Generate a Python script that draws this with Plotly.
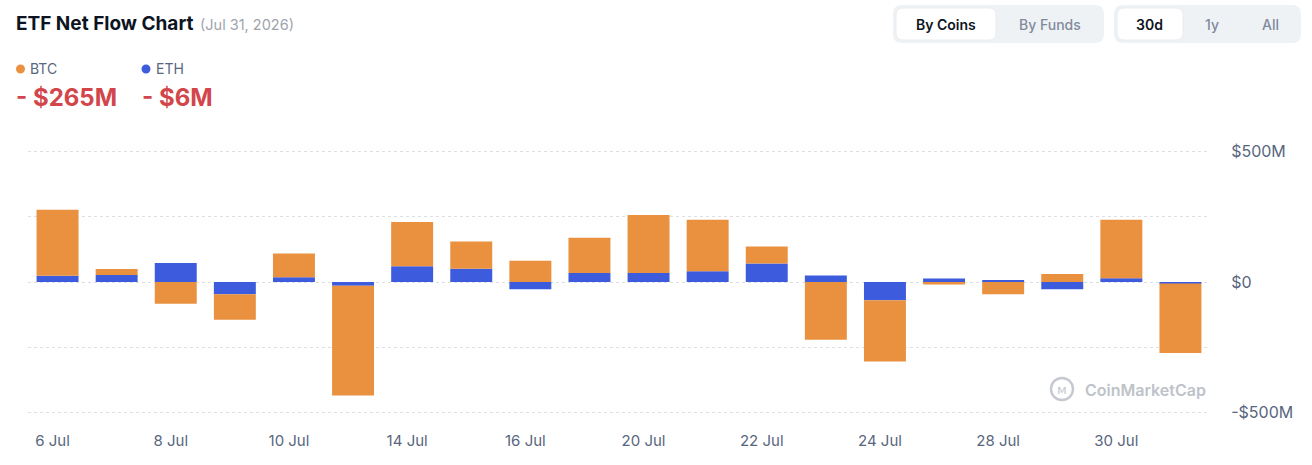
import plotly.graph_objects as go

# ---------------- data ----------------
dates = ["6 Jul", "7 Jul", "8 Jul", "9 Jul", "10 Jul", "13 Jul", "14 Jul", "15 Jul",
         "16 Jul", "17 Jul", "20 Jul", "21 Jul", "22 Jul", "23 Jul", "24 Jul", "27 Jul",
         "28 Jul", "29 Jul", "30 Jul", "31 Jul"]
btc_flow = [252, 23, -83, -97, 91, -420, 169, 104, 81, 135, 222, 197, 65, -221,
            -234, -10, -47, 31, 224, -265]
eth_flow = [24, 27, 73, -47, 18, -14, 60, 51, -28, 34, 34, 41, 71, 25,
            -70, 13, 4, -28, 14, -6]
x_tick_labels = dates[::2]
y_tick_vals = [-500, -250, 0, 250, 500]
y_tick_text = ["-$500M", "", "$0", "", "$500M"]
latest_btc = "- $265M"
latest_eth = "- $6M"

BTC_COLOR = "#E9913F"
ETH_COLOR = "#3C5BDD"
RED = "#D2464B"
GREY = "#58667E"
FONT = "Inter"

W, H = 1312, 465
ML, MR, MT, MB = 28, 102, 146, 47
PW = W - ML - MR
PH = H - MT - MB


def px(x):
    return (x - ML) / PW


def py(y):
    return (H - MB - y) / PH


fig = go.Figure()
fig.add_trace(go.Bar(x=dates, y=eth_flow, name="ETH", marker=dict(color=ETH_COLOR, line=dict(width=0))))
fig.add_trace(go.Bar(x=dates, y=btc_flow, name="BTC", marker=dict(color=BTC_COLOR, line=dict(width=0))))

shapes = []


def rrect(x0, y0, x1, y1, r, fill, line=None):
    pts = [
        f"M {px(x0 + r)},{py(y0)}",
        f"L {px(x1 - r)},{py(y0)}",
        f"Q {px(x1)},{py(y0)} {px(x1)},{py(y0 + r)}",
        f"L {px(x1)},{py(y1 - r)}",
        f"Q {px(x1)},{py(y1)} {px(x1 - r)},{py(y1)}",
        f"L {px(x0 + r)},{py(y1)}",
        f"Q {px(x0)},{py(y1)} {px(x0)},{py(y1 - r)}",
        f"L {px(x0)},{py(y0 + r)}",
        f"Q {px(x0)},{py(y0)} {px(x0 + r)},{py(y0)}",
        "Z",
    ]
    shapes.append(dict(type="path", xref="paper", yref="paper", path=" ".join(pts),
                       fillcolor=fill, line=line or dict(width=0), layer="below"))


# button groups
rrect(893, 5, 1104, 43, 9, "#EFF2F5")
rrect(896, 8, 996, 40, 7, "#FFFFFF", dict(color="#E6E9EE", width=0.8))
rrect(1114, 5, 1301, 43, 9, "#EFF2F5")
rrect(1117, 8, 1183, 40, 7, "#FFFFFF", dict(color="#E6E9EE", width=0.8))


def dot(cx, cy, r, color, fill=True, width=0):
    shapes.append(dict(type="circle", xref="paper", yref="paper",
                       xsizemode="pixel", ysizemode="pixel",
                       xanchor=px(cx), yanchor=py(cy), x0=-r, x1=r, y0=-r, y1=r,
                       fillcolor=color if fill else "rgba(0,0,0,0)",
                       line=dict(color=color, width=width)))


dot(20.5, 69, 4.5, BTC_COLOR)
dot(146, 69, 4.5, ETH_COLOR)
# watermark logo
dot(1062, 389, 11, "#C4C8CF", fill=False, width=2.4)

annotations = []


def text(x, y, s, size, color, weight=400, xanchor="left"):
    annotations.append(dict(x=px(x), y=py(y), xref="paper", yref="paper", text=s,
                            showarrow=False, xanchor=xanchor, yanchor="middle",
                            font=dict(family=FONT, size=size, color=color, weight=weight)))


text(14, 23, "ETF Net Flow Chart", 19, "#0D1421", 700)
text(198, 24, "(Jul 31, 2026)", 14.5, "#9EA4AE", 400)
text(28, 69, "BTC", 14, GREY, 400)
text(154, 69, "ETH", 14, GREY, 400)
text(14, 98, latest_btc, 24, RED, 700)
text(140, 98, latest_eth, 24, RED, 700)
text(946, 24, "By Coins", 14, "#0D1421", 600, "center")
text(1050, 24, "By Funds", 14, "#808A9D", 500, "center")
text(1149, 24, "30d", 14, "#0D1421", 600, "center")
text(1212, 24, "1y", 14, "#808A9D", 500, "center")
text(1270, 24, "All", 14, "#808A9D", 500, "center")
text(1083, 390, "CoinMarketCap", 16, "#BEC2C9", 600)
# wiggle inside logo
annotations.append(dict(x=px(1062), y=py(389), xref="paper", yref="paper", text="ᴍ",
                        showarrow=False, xanchor="center", yanchor="middle",
                        font=dict(family="DejaVu Sans", size=13, color="#C4C8CF")))

fig.update_layout(
    width=W, height=H,
    margin=dict(l=ML, r=MR, t=MT, b=MB, pad=0),
    barmode="relative",
    bargap=0.29,
    showlegend=False,
    plot_bgcolor="#FFFFFF",
    paper_bgcolor="#FFFFFF",
    font=dict(family=FONT, color=GREY),
    shapes=shapes,
    annotations=annotations,
    xaxis=dict(
        type="category",
        tickvals=x_tick_labels, ticktext=x_tick_labels,
        showgrid=False, zeroline=False, showline=False,
        ticks="outside", ticklen=9, tickcolor="rgba(0,0,0,0)",
        ticklabelshift=-5,
        tickfont=dict(family=FONT, size=15, color=GREY),
        fixedrange=True,
    ),
    yaxis=dict(
        side="right",
        range=[-520, 520],
        tickvals=y_tick_vals, ticktext=y_tick_text,
        showgrid=True, gridcolor="#DCDFE5", griddash="dot", gridwidth=1,
        zeroline=False, showline=False,
        ticks="outside", ticklen=17, tickcolor="rgba(0,0,0,0)",
        tickfont=dict(family=FONT, size=16, color=GREY),
        fixedrange=True,
    ),
)

fig.write_html("out.html", config={"displayModeBar": False},
               post_script="document.body.style.margin='0';document.body.style.overflow='hidden';")
